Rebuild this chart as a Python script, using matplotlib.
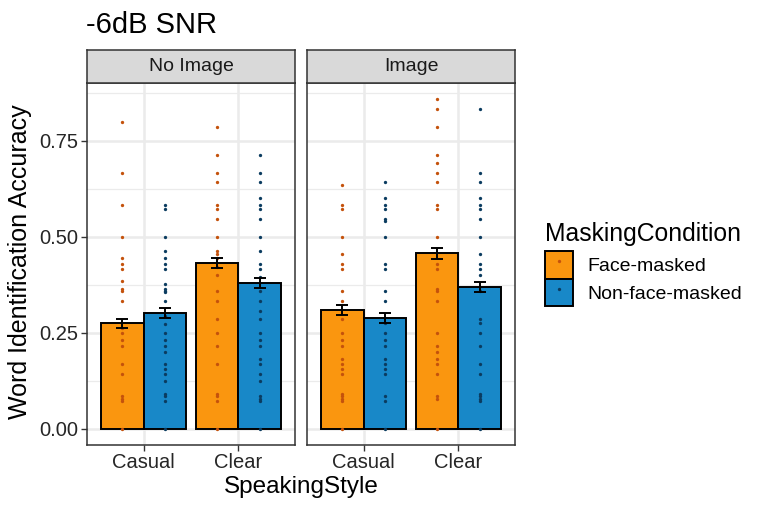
import numpy as np
import matplotlib.pyplot as plt
from matplotlib.patches import Patch
from matplotlib.lines import Line2D

plt.rcParams['font.family'] = ['Liberation Sans', 'DejaVu Sans']

styles = ['Casual', 'Clear']
conditions = ['Face-masked', 'Non-face-masked']
panels = ['No Image', 'Image']

# bar means and standard errors: [panel][style][condition]
means = [
    [[0.274, 0.302], [0.432, 0.380]],
    [[0.308, 0.288], [0.457, 0.369]],
]
errors = [
    [[0.012, 0.013], [0.013, 0.013]],
    [[0.013, 0.012], [0.014, 0.013]],
]

# individual participant scores
noimg_casual_face = [0.800, 0.667, 0.583, 0.500, 0.445, 0.430, 0.417, 0.385, 0.363, 0.359, 0.333,
                     0.263, 0.249, 0.231, 0.214, 0.167, 0.143, 0.084, 0.078, 0.072, 0.0]
noimg_casual_nonface = [0.583, 0.572, 0.500, 0.462, 0.445, 0.430, 0.417, 0.376, 0.363, 0.359, 0.355,
                        0.333, 0.293, 0.273, 0.249, 0.231, 0.214, 0.200, 0.167, 0.155, 0.143, 0.124,
                        0.091, 0.084, 0.071, 0.0]
noimg_clear_face = [0.786, 0.714, 0.667, 0.642, 0.583, 0.572, 0.546, 0.500, 0.462, 0.456, 0.445,
                    0.421, 0.400, 0.358, 0.333, 0.286, 0.249, 0.214, 0.167, 0.091, 0.084, 0.071, 0.0]
noimg_clear_nonface = [0.714, 0.667, 0.642, 0.601, 0.583, 0.572, 0.546, 0.500, 0.462, 0.430, 0.417,
                       0.395, 0.358, 0.333, 0.307, 0.286, 0.249, 0.231, 0.214, 0.181, 0.167, 0.143,
                       0.124, 0.084, 0.078, 0.071, 0.0]
img_casual_face = [0.636, 0.583, 0.572, 0.500, 0.455, 0.430, 0.417, 0.358, 0.333, 0.286, 0.249,
                   0.231, 0.214, 0.181, 0.167, 0.155, 0.143, 0.091, 0.084, 0.078, 0.071, 0.0]
img_casual_nonface = [0.643, 0.601, 0.583, 0.572, 0.546, 0.542, 0.500, 0.430, 0.417, 0.358, 0.333,
                      0.275, 0.249, 0.231, 0.214, 0.181, 0.167, 0.155, 0.143, 0.084, 0.071, 0.0]
img_clear_face = [0.858, 0.833, 0.786, 0.714, 0.693, 0.667, 0.643, 0.583, 0.572, 0.500, 0.430,
                  0.417, 0.363, 0.358, 0.333, 0.249, 0.214, 0.200, 0.181, 0.167, 0.143, 0.084,
                  0.078, 0.0]
img_clear_nonface = [0.833, 0.667, 0.643, 0.601, 0.583, 0.572, 0.546, 0.500, 0.455, 0.430, 0.417,
                     0.400, 0.358, 0.286, 0.275, 0.249, 0.214, 0.167, 0.143, 0.091, 0.084, 0.078,
                     0.071, 0.0]
points = [
    [[noimg_casual_face, noimg_casual_nonface], [noimg_clear_face, noimg_clear_nonface]],
    [[img_casual_face, img_casual_nonface], [img_clear_face, img_clear_nonface]],
]

bar_colors = ['#FA960F', '#1888C8']
dot_colors = ['#C4520C', '#0B3C60']
grid_color = '#EBEBEB'
border_color = '#333333'
tick_text = '#262626'

W, H = 765, 512
fig = plt.figure(figsize=(W / 100, H / 100), dpi=100)


def px_axes(x0, y0, x1, y1):
    # pixel box (top-left origin) -> figure axes
    return fig.add_axes([x0 / W, 1 - y1 / H, (x1 - x0) / W, (y1 - y0) / H])


panel_x = [(87, 295), (307, 515)]
panel_top, panel_bottom = 83, 445
strip_top = 50
bar_w = 0.45
offsets = [-0.225, 0.225]
x = np.arange(len(styles))

for p, (x0, x1) in enumerate(panel_x):
    ax = px_axes(x0, panel_top, x1, panel_bottom)
    ax.set_xlim(-0.6, 1.6)
    ax.set_ylim(-0.0429, 0.9009)
    ax.set_yticks([0, 0.25, 0.5, 0.75])
    ax.set_yticks([0.125, 0.375, 0.625, 0.875], minor=True)
    ax.set_xticks(x)
    ax.set_xticklabels(styles, fontsize=14.5, color=tick_text)
    ax.set_yticklabels(['0.00', '0.25', '0.50', '0.75'], fontsize=14.5, color=tick_text)
    if p > 0:
        ax.tick_params(axis='y', which='both', left=False, labelleft=False)
    ax.tick_params(axis='both', which='major', length=4, width=1, color=border_color, pad=2)
    ax.tick_params(axis='y', which='minor', length=0)
    ax.grid(True, which='major', color=grid_color, lw=1.8, zorder=0)
    ax.grid(True, which='minor', axis='y', color=grid_color, lw=0.9, zorder=0)
    ax.set_axisbelow(True)
    for s in ax.spines.values():
        s.set_color(border_color)
        s.set_linewidth(1.1)

    for c in range(len(conditions)):
        m = [means[p][s][c] for s in range(len(styles))]
        e = [errors[p][s][c] for s in range(len(styles))]
        ax.bar(x + offsets[c], m, width=bar_w, color=bar_colors[c], edgecolor='black',
               linewidth=1.4, zorder=2)
        for s in range(len(styles)):
            vals = points[p][s][c]
            ax.plot(np.full(len(vals), x[s] + offsets[c]), vals, 'o', ms=2.4, mew=0,
                    color=dot_colors[c], zorder=3)
        ax.errorbar(x + offsets[c], m, yerr=e, fmt='none', ecolor='black', elinewidth=1.4,
                    capsize=4.5, capthick=1.4, zorder=4)

    sax = px_axes(x0, strip_top, x1, panel_top)
    sax.set_facecolor('#D9D9D9')
    sax.set_xticks([])
    sax.set_yticks([])
    for s in sax.spines.values():
        s.set_color(border_color)
        s.set_linewidth(1.1)
    sax.text(0.5, 0.5, panels[p], ha='center', va='center', fontsize=14, color='#1A1A1A',
             transform=sax.transAxes)

fig.text(86 / W, 1 - 25 / H, '-6dB SNR', fontsize=21, ha='left', va='center')
fig.text(20 / W, 1 - 262 / H, 'Word Identification Accuracy', fontsize=18, rotation=90,
         ha='center', va='center')
fig.text(301 / W, 1 - 487 / H, 'SpeakingStyle', fontsize=17.5, ha='center', va='center')

handles = [(Patch(facecolor=bar_colors[c], edgecolor='black', linewidth=1.4),
            Line2D([], [], marker='o', ls='', ms=2.4, mew=0, color=dot_colors[c]))
           for c in range(len(conditions))]
leg = fig.legend(handles, conditions, loc='upper left', bbox_to_anchor=(541 / W, 1 - 218 / H),
                 frameon=False, fontsize=14, title='MaskingCondition', title_fontsize=17.8,
                 handlelength=1.45, handleheight=1.8, labelspacing=0.0, handletextpad=0.75,
                 borderaxespad=0, borderpad=0.2)
leg._legend_box.align = 'left'
leg._legend_box.sep = 4

fig.savefig('out.png', dpi=100)
